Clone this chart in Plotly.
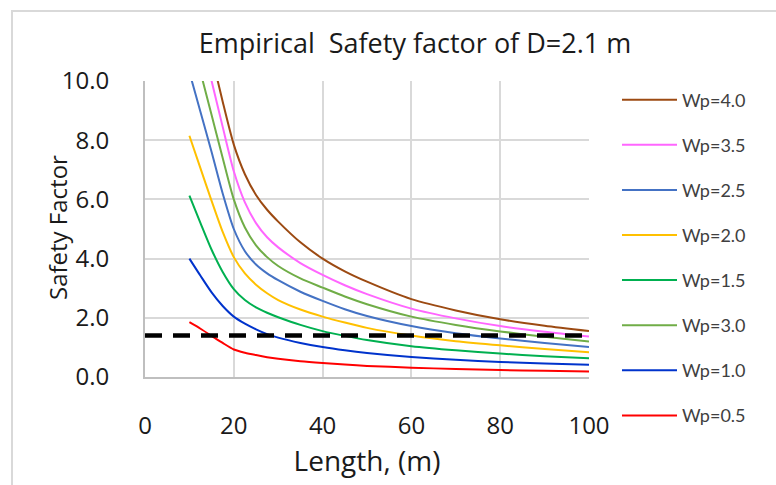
import plotly.graph_objects as go

# Pile length (m)
length_m = [10, 12.5, 15, 17.5, 20, 22.5, 25, 27.5, 30, 35, 40, 45, 50, 60, 70, 80, 90, 100]

# Empirical safety factor for each Wp (D = 2.1 m)
sf_wp_0_5 = [1.85, 1.63, 1.39, 1.15, 0.93, 0.82, 0.74, 0.67, 0.615, 0.53, 0.47, 0.42, 0.375, 0.315, 0.27, 0.235, 0.21, 0.19]
sf_wp_1_0 = [4.00, 3.42, 2.86, 2.40, 2.04, 1.80, 1.61, 1.45, 1.33, 1.15, 1.01, 0.90, 0.81, 0.675, 0.58, 0.51, 0.455, 0.41]
sf_wp_1_5 = [6.13, 5.20, 4.30, 3.55, 2.97, 2.60, 2.35, 2.17, 2.02, 1.76, 1.55, 1.39, 1.25, 1.04, 0.90, 0.79, 0.70, 0.63]
sf_wp_2_0 = [8.15, 7.05, 5.95, 4.90, 4.05, 3.50, 3.12, 2.83, 2.60, 2.28, 2.04, 1.84, 1.66, 1.40, 1.21, 1.07, 0.95, 0.84]
sf_wp_2_5 = [10.3, 8.95, 7.60, 6.20, 5.00, 4.25, 3.80, 3.50, 3.27, 2.88, 2.57, 2.29, 2.06, 1.72, 1.48, 1.30, 1.15, 1.01]
sf_wp_3_0 = [11.8, 10.3, 8.85, 7.40, 6.00, 5.05, 4.45, 4.05, 3.75, 3.33, 3.02, 2.72, 2.46, 2.04, 1.76, 1.54, 1.36, 1.20]
sf_wp_3_5 = [13.2, 11.6, 10.0, 8.45, 6.95, 5.90, 5.20, 4.72, 4.38, 3.85, 3.45, 3.10, 2.80, 2.31, 1.98, 1.72, 1.53, 1.37]
sf_wp_4_0 = [14.6, 12.7, 10.9, 9.30, 7.85, 6.85, 6.15, 5.65, 5.25, 4.55, 4.00, 3.57, 3.22, 2.63, 2.25, 1.95, 1.73, 1.55]

# Required safety factor
sf_required = 1.4

# Legend order and colours
series = [
    ("Wp=4.0", sf_wp_4_0, "#9C4A12"),
    ("Wp=3.5", sf_wp_3_5, "#FF66FF"),
    ("Wp=2.5", sf_wp_2_5, "#4472C4"),
    ("Wp=2.0", sf_wp_2_0, "#FFC000"),
    ("Wp=1.5", sf_wp_1_5, "#00B050"),
    ("Wp=3.0", sf_wp_3_0, "#70AD47"),
    ("Wp=1.0", sf_wp_1_0, "#0033CC"),
    ("Wp=0.5", sf_wp_0_5, "#FF0000"),
]

fig = go.Figure()
for name, values, color in series:
    fig.add_trace(go.Scatter(
        x=length_m, y=values, name=name, mode="lines",
        legendgroup=name,
        line=dict(color=color, width=2, shape="spline", smoothing=0.7),
    ))

# Dashed reference line at the required safety factor
fig.add_trace(go.Scatter(
    x=[0, 100], y=[sf_required, sf_required], mode="lines", showlegend=False,
    line=dict(color="black", width=4.5, dash="17px,11px"),
))

L, R, T, B = 145, 187, 81, 108
W, H = 776, 485
pw, ph = W - L - R, H - T - B

def px_x(px):
    return (px - L) / pw

def px_y(py):
    return (H - B - py) / ph

font_family = "Open Sans, Noto Sans, sans-serif"
text_color = "#1a1a1a"

fig.update_layout(
    width=W, height=H,
    margin=dict(l=L, r=R, t=T, b=B),
    paper_bgcolor="white", plot_bgcolor="white",
    title=dict(text="Empirical  Safety factor of D=2.1 m", xref="container", x=415 / W,
               xanchor="center", y=1 - 44 / H, yanchor="middle",
               font=dict(family=font_family, size=27, color=text_color)),
    showlegend=True,
    legend=dict(x=px_x(617), xanchor="left", y=px_y(81.5), yanchor="top",
                traceorder="grouped", tracegroupgap=18.7, itemwidth=55, maxheight=470,
                font=dict(family="Lato, Open Sans, sans-serif", size=18, color="#404040"),
                bgcolor="rgba(0,0,0,0)"),
    shapes=[dict(type="rect", xref="paper", yref="paper",
                 x0=px_x(12), x1=px_x(800), y0=px_y(520), y1=px_y(11),
                 line=dict(color="#d9d9d9", width=2), fillcolor="rgba(0,0,0,0)",
                 layer="below")],
    annotations=[dict(text="Safety Factor", xref="paper", yref="paper",
                      x=px_x(57), y=px_y(228), xanchor="center", yanchor="middle",
                      textangle=-90, showarrow=False,
                      font=dict(family=font_family, size=24, color=text_color))],
)

fig.update_xaxes(
    range=[0, 100], tickmode="array", tickvals=[0, 20, 40, 60, 80, 100],
    showgrid=True, gridcolor="#d9d9d9", gridwidth=1.5,
    showline=True, linecolor="#bfbfbf", linewidth=2,
    zeroline=False, ticks="", ticklabelstandoff=26,
    tickfont=dict(family=font_family, size=24, color=text_color),
    title=dict(text="Length, (m)", standoff=3,
               font=dict(family=font_family, size=28, color=text_color)),
)
fig.update_yaxes(
    range=[0, 10], tickmode="array", tickvals=[0, 2, 4, 6, 8, 10], tickformat=".1f",
    showgrid=True, gridcolor="#d9d9d9", gridwidth=1.5,
    showline=True, linecolor="#bfbfbf", linewidth=2,
    zeroline=False, ticks="", ticklabelstandoff=29,
    tickfont=dict(family=font_family, size=24, color=text_color),
)

fig.write_html("out.html")
